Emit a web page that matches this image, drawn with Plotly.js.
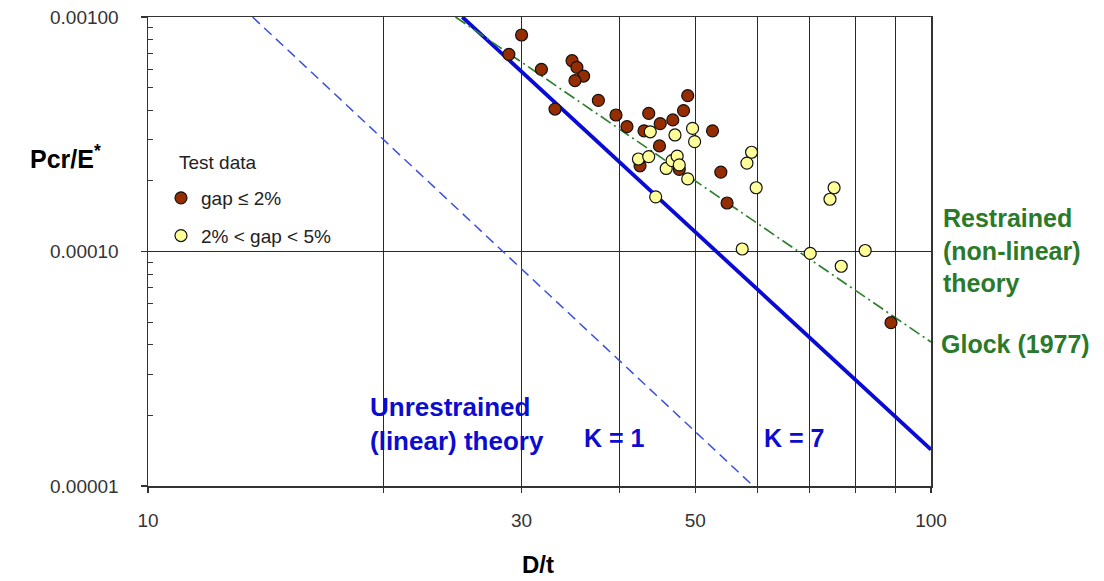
<!DOCTYPE html>
<html>
<head>
<meta charset="utf-8">
<script src="https://cdn.plot.ly/plotly-3.0.1.min.js"></script>
<style>
html,body{margin:0;padding:0;background:#fff;}
#chart{width:1104px;height:581px;}
</style>
</head>
<body>
<div id="chart"></div>
<script>
// ---- Data ----
// Test data, gap <= 2%
var gap2_dt  = [30.0, 28.9, 31.8, 34.8, 35.3, 36.0, 35.1, 33.1, 37.6, 39.6, 40.9, 43.6, 43.0, 45.1, 46.8, 48.3, 48.9, 52.6, 45.0, 42.5, 47.7, 53.9, 54.9, 88.9];
var gap2_p   = [8.38e-4, 6.93e-4, 5.98e-4, 6.51e-4, 6.10e-4, 5.60e-4, 5.35e-4, 4.05e-4, 4.41e-4, 3.82e-4, 3.41e-4, 3.88e-4, 3.27e-4, 3.51e-4, 3.64e-4, 3.99e-4, 4.62e-4, 3.27e-4, 2.82e-4, 2.32e-4, 2.24e-4, 2.18e-4, 1.61e-4, 4.97e-5];
// Test data, 2% < gap < 5%
var gap5_dt  = [43.8, 47.1, 49.6, 49.9, 42.3, 43.6, 45.9, 46.7, 47.4, 47.7, 48.9, 44.5, 59.0, 58.2, 59.8, 75.2, 74.3, 57.4, 70.1, 82.4, 76.8];
var gap5_p   = [3.24e-4, 3.14e-4, 3.35e-4, 2.94e-4, 2.48e-4, 2.54e-4, 2.26e-4, 2.44e-4, 2.55e-4, 2.34e-4, 2.04e-4, 1.71e-4, 2.65e-4, 2.38e-4, 1.87e-4, 1.87e-4, 1.67e-4, 1.025e-4, 9.82e-5, 1.01e-4, 8.65e-5];
// Theory lines
var k1_dt    = [13.6, 59.3];
var k1_p     = [1.0e-3, 1.0e-5];
var k7_dt    = [25.2, 100];
var k7_p     = [1.0e-3, 1.43e-5];
var glock_dt = [24.7, 100];
var glock_p  = [1.0e-3, 4.11e-5];
// Axis ticks
var xTickVals = [10, 20, 30, 40, 50, 60, 70, 80, 90, 100];
var xTickText = ['10', ' ', '30', ' ', '50', ' ', ' ', ' ', ' ', '100'];
var yTickVals = [1e-5, 1e-4, 1e-3];
var yTickText = ['0.00001', '0.00010', '0.00100'];
var yMinorVals = [2e-5, 3e-5, 4e-5, 5e-5, 6e-5, 7e-5, 8e-5, 9e-5, 2e-4, 3e-4, 4e-4, 5e-4, 6e-4, 7e-4, 8e-4, 9e-4];
var legendTitle = 'Test data';
var seriesNames = ['gap \u2264 2%', '2% < gap < 5%'];

// ---- Chart ----
var FONT = 'Arial, "Liberation Sans", sans-serif';
var BLUE = '#0c0cd0';
var GREEN = '#2a7a2a';

var traces = [
  {x: k1_dt, y: k1_p, mode: 'lines', showlegend: false, hoverinfo: 'skip',
   line: {color: '#3a50e4', width: 1.5, dash: '10px,6px'}},
  {x: k7_dt, y: k7_p, mode: 'lines', showlegend: false, hoverinfo: 'skip',
   line: {color: '#0a0ad6', width: 3.8}},
  {x: glock_dt, y: glock_p, mode: 'lines', showlegend: false, hoverinfo: 'skip',
   line: {color: '#2f802f', width: 1.7, dash: '12px,4px,2px,4px'}},
  {x: gap2_dt, y: gap2_p, mode: 'markers', name: seriesNames[0], legendgroup: 'a',
   marker: {size: 12, color: '#962d00', line: {color: '#111', width: 1.2}}},
  {x: gap5_dt, y: gap5_p, mode: 'markers', name: seriesNames[1], legendgroup: 'b',
   marker: {size: 12, color: '#ffff99', line: {color: '#111', width: 1.2}}}
];

function px2x(px) { return (px - 148) / 783; }
function py2y(py) { return 1 - (py - 17) / 469; }

var ann = [
  {text: legendTitle, x: px2x(177), y: py2y(162), xanchor: 'left', yanchor: 'middle',
   font: {family: FONT, size: 19, color: '#222'}},
  {text: 'Pcr/E<sup>*</sup>', x: px2x(65), y: py2y(157), xanchor: 'center', yanchor: 'middle',
   font: {family: FONT, size: 25, color: '#000', weight: 'bold'}},
  {text: 'D/t', x: px2x(538), y: py2y(564), xanchor: 'center', yanchor: 'middle',
   font: {family: FONT, size: 24, color: '#000', weight: 'bold'}},
  {text: 'Restrained<br>(non-linear)<br>theory', x: px2x(941), y: py2y(251), xanchor: 'left', yanchor: 'middle', align: 'left',
   font: {family: FONT, size: 25, color: GREEN, weight: 'bold'}},
  {text: 'Glock (1977)', x: px2x(939), y: py2y(344), xanchor: 'left', yanchor: 'middle', align: 'left',
   font: {family: FONT, size: 25, color: GREEN, weight: 'bold'}},
  {text: 'Unrestrained<br>(linear) theory', x: px2x(368), y: py2y(424), xanchor: 'left', yanchor: 'middle', align: 'left',
   font: {family: FONT, size: 26, color: BLUE, weight: 'bold'}},
  {text: 'K = 1', x: px2x(582), y: py2y(438), xanchor: 'left', yanchor: 'middle',
   font: {family: FONT, size: 25, color: BLUE, weight: 'bold'}},
  {text: 'K = 7', x: px2x(762), y: py2y(438), xanchor: 'left', yanchor: 'middle',
   font: {family: FONT, size: 25, color: BLUE, weight: 'bold'}}
];
ann.forEach(function (a) { a.xref = 'paper'; a.yref = 'paper'; a.showarrow = false; });

var layout = {
  width: 1104, height: 581,
  margin: {l: 148, r: 173, t: 17, b: 95, pad: 0},
  paper_bgcolor: '#fff', plot_bgcolor: '#fff',
  font: {family: FONT, color: '#333'},
  showlegend: true,
  legend: {
    x: px2x(161), y: py2y(179), xanchor: 'left', yanchor: 'top',
    bgcolor: 'rgba(0,0,0,0)', borderwidth: 0,
    font: {family: FONT, size: 19, color: '#222'},
    tracegroupgap: 10, itemwidth: 30
  },
  xaxis: {
    type: 'log', range: [1, 2],
    tickmode: 'array', tickvals: xTickVals, ticktext: xTickText,
    showgrid: true, gridcolor: '#2a2a2a', gridwidth: 1,
    showline: true, linecolor: '#333', linewidth: 1.5, mirror: true,
    ticks: 'outside', ticklen: 5, tickcolor: '#333', tickwidth: 1.2,
    tickfont: {family: FONT, size: 19, color: '#333'},
    ticklabelstandoff: 12, zeroline: false
  },
  yaxis: {
    type: 'log', range: [-5, -3],
    tickmode: 'array', tickvals: yTickVals, ticktext: yTickText,
    showgrid: true, gridcolor: '#2a2a2a', gridwidth: 1,
    showline: true, linecolor: '#333', linewidth: 1.5, mirror: true,
    ticks: 'outside', ticklen: 6, tickcolor: '#333', tickwidth: 1.2,
    tickfont: {family: FONT, size: 19, color: '#333'},
    ticklabelstandoff: 18, zeroline: false,
    minor: {tickmode: 'array', tickvals: yMinorVals, ticks: 'inside', ticklen: 5, tickcolor: '#333', tickwidth: 1, showgrid: false}
  },
  annotations: ann
};

Plotly.newPlot('chart', traces, layout, {displayModeBar: false, staticPlot: true});
</script>
</body>
</html>
